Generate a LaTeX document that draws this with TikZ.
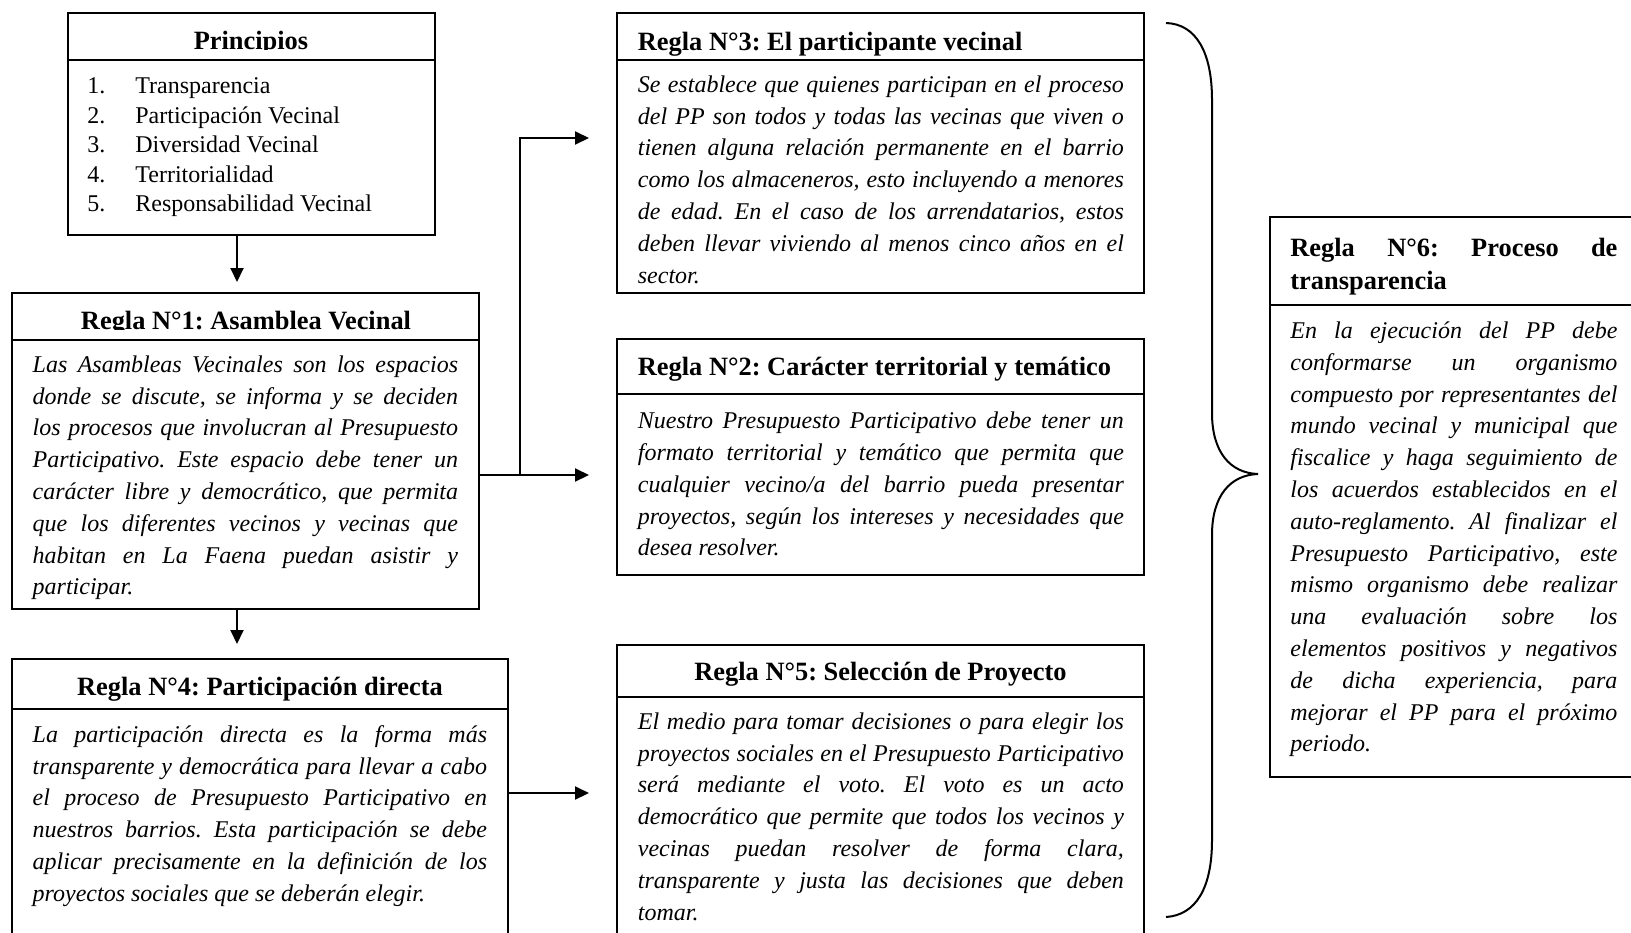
\documentclass[tikz,border=0pt]{standalone}
\usepackage{fontspec}
\setmainfont{Liberation Serif}
\usetikzlibrary{arrows.meta,fit}

\newcommand{\cuerpo}{\fontsize{12pt}{15.9pt}\selectfont\itshape\frenchspacing\tolerance=9999\hyphenpenalty=10000}
\newcommand{\titulo}{\fontsize{13.2pt}{16.5pt}\selectfont\bfseries\frenchspacing}

\tikzset{
  marco/.style={draw, line width=1pt, inner sep=0pt},
  flecha/.style={line width=1pt, -{Triangle[length=7pt,width=6.5pt]}},
  texto/.style={anchor=north west, inner sep=0pt, text width=#1, align=justify, font=\cuerpo},
  cabecera/.style={anchor=base, inner sep=0pt, font=\titulo},
}

\begin{document}
\begin{tikzpicture}[x=0.5pt,y=-0.5pt]
        \useasboundingbox (0,0) rectangle (1631,932);
        % principios
        \node[marco, fit={(67.5,13) (435,60)}] (prinhead) {};
        \node[marco, fit={(67.5,60) (435,235)}] (prinbody) {};
        \begin{scope}
          \clip (69,14) rectangle (433,49.5);
          \node[cabecera] (printitulo) at (251,49) {Principios};
        \end{scope}
        \node[anchor=north west, inner sep=0pt, font=\fontsize{12pt}{14.8pt}\selectfont] (lista) at (87,72.3)
          {\begin{tabular}{@{}p{24pt}@{}l@{}}
           1. & Transparencia\\
           2. & Participación Vecinal\\
           3. & Diversidad Vecinal\\
           4. & Territorialidad\\
           5. & Responsabilidad Vecinal
           \end{tabular}};
        % regla 1
        \node[marco, fit={(12.3,293) (479,340)}] (r1head) {};
        \node[marco, fit={(12.3,340) (479,609)}] (r1body) {};
        \begin{scope}
          \clip (14,294) rectangle (477,329.8);
          \node[cabecera] (r1titulo) at (246,329) {Regla N°1: Asamblea Vecinal};
        \end{scope}
        \node[texto=212.7pt] (r1texto) at (32.3,349.7) {\strut Las Asambleas Vecinales son los espacios\linebreak
          donde se discute, se informa y se deciden\linebreak
          los procesos que involucran al Presupuesto\linebreak
          Participativo. Este espacio debe tener un\linebreak
          carácter libre y democrático, que permita\linebreak
          que los diferentes vecinos y vecinas que\linebreak
          habitan en La Faena puedan asistir y\linebreak
          participar.};
        % regla 4
        \node[marco, fit={(12.3,659) (507.7,709)}] (r4head) {};
        \node[marco, fit={(12.3,709) (507.7,950)}] (r4body) {};
        \node[cabecera] (r4titulo) at (260,695) {Regla N°4: Participación directa};
        \node[texto=227.2pt] (r4texto) at (32.3,719.7) {\strut La participación directa es la forma más\linebreak
          transparente y democrática para llevar a cabo\linebreak
          el proceso de Presupuesto Participativo en\linebreak
          nuestros barrios. Esta participación se debe\linebreak
          aplicar precisamente en la definición de los\linebreak
          proyectos sociales que se deberán elegir.};
        % regla 3
        \node[marco, fit={(617,12.7) (1144,60)}] (r3head) {};
        \node[marco, fit={(617,60) (1144,293.3)}] (r3body) {};
        \node[cabecera, anchor=base west] (r3titulo) at (637.5,50) {Regla N°3: El participante vecinal};
        \node[texto=243pt] (r3texto) at (637.5,69.7) {\strut Se establece que quienes participan en el proceso\linebreak
          del PP son todos y todas las vecinas que viven o\linebreak
          tienen alguna relación permanente en el barrio\linebreak
          como los almaceneros, esto incluyendo a menores\linebreak
          de edad. En el caso de los arrendatarios, estos\linebreak
          deben llevar viviendo al menos cinco años en el\linebreak
          sector.};
        % regla 2
        \node[marco, fit={(617,339.3) (1144,394)}] (r2head) {};
        \node[marco, fit={(617,394) (1144,575)}] (r2body) {};
        \node[cabecera, anchor=base west] (r2titulo) at (637.5,375.5) {Regla N°2: Carácter territorial y temático};
        \node[texto=243pt] (r2texto) at (637.5,406) {\strut Nuestro Presupuesto Participativo debe tener un\linebreak
          formato territorial y temático que permita que\linebreak
          cualquier vecino/a del barrio pueda presentar\linebreak
          proyectos, según los intereses y necesidades que\linebreak
          desea resolver.};
        % regla 5
        \node[marco, fit={(617,645) (1144,697.3)}] (r5head) {};
        \node[marco, fit={(617,697.3) (1144,950)}] (r5body) {};
        \node[cabecera] (r5titulo) at (880.5,680.7) {Regla N°5: Selección de Proyecto};
        \node[texto=243pt] (r5texto) at (637.5,706.7) {\strut El medio para tomar decisiones o para elegir los\linebreak
          proyectos sociales en el Presupuesto Participativo\linebreak
          será mediante el voto. El voto es un acto\linebreak
          democrático que permite que todos los vecinos y\linebreak
          vecinas puedan resolver de forma clara,\linebreak
          transparente y justa las decisiones que deben\linebreak
          tomar.};
        % regla 6
        \node[marco, fit={(1270,217.3) (1645,305)}] (r6head) {};
        \node[marco, fit={(1270,305) (1645,777.3)}] (r6body) {};
        \node[texto=163.5pt, font=\titulo] (r6titulo) at (1290,232.5) {\strut Regla N°6: Proceso de\linebreak transparencia};
        \node[texto=163.5pt] (r6texto) at (1290,315.8) {\strut En la ejecución del PP debe\linebreak
          conformarse un organismo\linebreak
          compuesto por representantes del\linebreak
          mundo vecinal y municipal que\linebreak
          fiscalice y haga seguimiento de\linebreak
          los acuerdos establecidos en el\linebreak
          auto-reglamento. Al finalizar el\linebreak
          Presupuesto Participativo, este\linebreak
          mismo organismo debe realizar\linebreak
          una evaluación sobre los\linebreak
          elementos positivos y negativos\linebreak
          de dicha experiencia, para\linebreak
          mejorar el PP para el próximo\linebreak
          periodo.};
        % conectores
        \draw[flecha, shorten >=5pt] (prinbody.south -| 237,0) -- (r1head.north -| 237,0);
        \draw[flecha, shorten >=7pt] (r1body.south -| 237,0) -- (r4head.north -| 237,0);
        \coordinate (nudo) at (520,475);
        \draw[line width=1pt] (r1body.east |- nudo) -- (nudo);
        \draw[flecha, shorten >=13.5pt] (nudo) -- (r2body.west |- nudo);
        \draw[flecha, shorten >=13.5pt] (nudo) |- (r3body.west |- 0,138);
        \draw[flecha, shorten >=13.5pt] (r4body.east |- 0,793) -- (r5body.west |- 0,793);
        % llave
        \coordinate (punta) at (1258,474);
        \draw[line width=1pt] (1166,23) .. controls (1196,24) and (1212,52) .. (1212,100)
          -- (1212,413) .. controls (1212,452) and (1230,473) .. (punta)
          .. controls (1230,475) and (1212,496) .. (1212,535)
          -- (1212,840) .. controls (1212,888) and (1196,915) .. (1166,917);
      \end{tikzpicture}
\end{document}
